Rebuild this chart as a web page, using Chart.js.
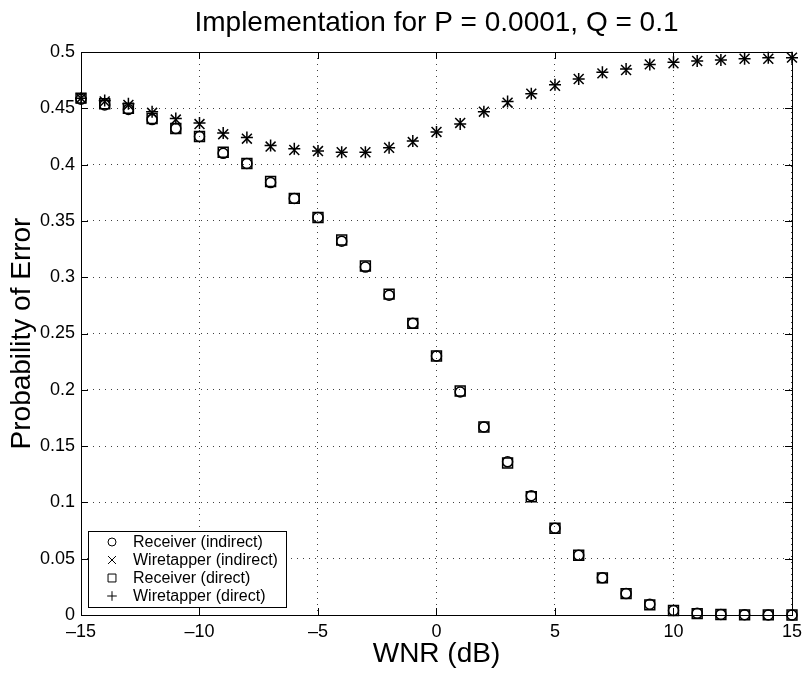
<!DOCTYPE html>
<html>
<head>
<meta charset="utf-8">
<script src="https://cdn.jsdelivr.net/npm/chart.js@4"></script>
<style>
  html, body { margin: 0; padding: 0; background: #fff; }
  canvas { display: block; }
</style>
</head>
<body>
<canvas id="chart" width="808" height="673"></canvas>
<script>
const wnr = [-15, -14, -13, -12, -11, -10, -9, -8, -7, -6, -5, -4, -3, -2, -1, 0,
	1, 2, 3, 4, 5, 6, 7, 8, 9, 10, 11, 12, 13, 14, 15];
const receiverIndirect = [0.458, 0.453, 0.449, 0.440, 0.432, 0.425, 0.410, 0.401, 0.384, 0.370, 0.353,
	0.332, 0.309, 0.284, 0.259, 0.230, 0.198, 0.167, 0.136, 0.106, 0.077,
	0.053, 0.033, 0.019, 0.0095, 0.004, 0.0015, 0.0005, 0.0002, 0.0001, 0.0];
const wiretapperIndirect = [0.459, 0.456, 0.453, 0.446, 0.440, 0.436, 0.427, 0.423, 0.416, 0.413, 0.412,
	0.411, 0.411, 0.415, 0.420, 0.429, 0.437, 0.447, 0.455, 0.463, 0.470,
	0.476, 0.481, 0.484, 0.489, 0.490, 0.492, 0.493, 0.494, 0.494, 0.495];
const receiverDirect = [0.459, 0.454, 0.450, 0.441, 0.432, 0.425, 0.411, 0.401, 0.385, 0.370, 0.353,
	0.333, 0.310, 0.285, 0.259, 0.230, 0.199, 0.167, 0.135, 0.105, 0.077,
	0.053, 0.033, 0.019, 0.009, 0.004, 0.0012, 0.0004, 0.0001, 0.0001, 0.0];
const wiretapperDirect = [0.459, 0.457, 0.454, 0.447, 0.441, 0.437, 0.428, 0.424, 0.417, 0.414, 0.412,
	0.411, 0.411, 0.415, 0.421, 0.429, 0.436, 0.447, 0.456, 0.463, 0.471,
	0.476, 0.482, 0.485, 0.489, 0.491, 0.492, 0.493, 0.494, 0.495, 0.495];

const seriesLabels = ['Receiver (indirect)', 'Wiretapper (indirect)', 'Receiver (direct)', 'Wiretapper (direct)'];
const xTicks = [-15, -10, -5, 0, 5, 10, 15];
const yTicks = [0, 0.05, 0.1, 0.15, 0.2, 0.25, 0.3, 0.35, 0.4, 0.45, 0.5];

const titleText = 'Implementation for P = 0.0001, Q = 0.1';
const xTitle = 'WNR (dB)';
const yTitle = 'Probability of Error';

const fontFamily = '"Liberation Sans", Arial, Helvetica, sans-serif';
Chart.defaults.font.family = fontFamily;
Chart.defaults.color = '#000';

function points(values) {
	return wnr.map((x, i) => ({ x, y: values[i] }));
}

const markers = [
	{ style: 'circle', radius: 5 },
	{ style: 'crossRot', radius: 7 },
	{ style: 'rect', radius: 7 },
	{ style: 'cross', radius: 6 },
];

const frame = {
	id: 'frame',
	afterDraw(chart) {
		const { ctx, chartArea: a, scales: { x, y } } = chart;
		ctx.save();
		ctx.strokeStyle = '#000';
		ctx.lineWidth = 1;
		ctx.strokeRect(Math.round(a.left) + 0.5, Math.round(a.top) + 0.5,
			Math.round(a.right - a.left), Math.round(a.bottom - a.top));

		// matlab style inward ticks on all four sides
		ctx.beginPath();
		xTicks.forEach((v) => {
			const px = Math.round(x.getPixelForValue(v)) + 0.5;
			ctx.moveTo(px, a.bottom);
			ctx.lineTo(px, a.bottom - 7);
			ctx.moveTo(px, a.top);
			ctx.lineTo(px, a.top + 7);
		});
		yTicks.forEach((v) => {
			const py = Math.round(y.getPixelForValue(v)) + 0.5;
			ctx.moveTo(a.left, py);
			ctx.lineTo(a.left + 7, py);
			ctx.moveTo(a.right, py);
			ctx.lineTo(a.right - 7, py);
		});
		ctx.stroke();

		// titles
		ctx.fillStyle = '#000';
		ctx.textAlign = 'center';
		ctx.textBaseline = 'middle';
		ctx.font = `28px ${fontFamily}`;
		const cx = (a.left + a.right) / 2;
		ctx.fillText(titleText, cx, 23);
		ctx.fillText(xTitle, cx, 654);
		ctx.save();
		ctx.translate(22, (a.top + a.bottom) / 2);
		ctx.rotate(-Math.PI / 2);
		ctx.fillText(yTitle, 0, 0);
		ctx.restore();

		// legend box
		const lx = 88, ly = 531, lw = 198, lh = 76;
		ctx.fillStyle = '#fff';
		ctx.fillRect(lx, ly, lw, lh);
		ctx.strokeRect(lx + 0.5, ly + 0.5, lw, lh);
		ctx.font = `16px ${fontFamily}`;
		ctx.textAlign = 'left';
		seriesLabels.forEach((label, i) => {
			const ry = 542 + i * 18;
			ctx.strokeStyle = '#000';
			ctx.fillStyle = 'rgba(0,0,0,0)';
			ctx.lineWidth = 1;
			Chart.helpers.drawPoint(ctx, {
				pointStyle: markers[i].style,
				radius: markers[i].radius * 0.8,
				rotation: 0,
				borderWidth: 1,
			}, 112, ry);
			ctx.fillStyle = '#000';
			ctx.fillText(label, 133, ry + 1);
		});
		ctx.restore();
	},
};

const seriesValues = [receiverIndirect, wiretapperIndirect, receiverDirect, wiretapperDirect];

const ctx = document.getElementById('chart').getContext('2d');
const chart = new Chart(ctx, {
	type: 'scatter',
	data: {
		datasets: seriesValues.map((vals, i) => ({
			label: seriesLabels[i],
			data: points(vals),
			pointStyle: markers[i].style,
			pointRadius: markers[i].radius,
			pointHoverRadius: markers[i].radius,
			pointBorderWidth: 1.5,
			pointBorderColor: '#000',
			pointBackgroundColor: 'rgba(0,0,0,0)',
			showLine: false,
			clip: false,
		})),
	},
	options: {
		responsive: false,
		animation: false,
		devicePixelRatio: 1,
		layout: { padding: { left: 0, top: 52, right: 13, bottom: 0 } },
		plugins: {
			legend: { display: false },
			title: { display: false },
			tooltip: { enabled: false },
		},
		scales: {
			x: {
				type: 'linear',
				min: -15,
				max: 15,
				afterBuildTicks: (s) => { s.ticks = xTicks.map((v) => ({ value: v })); },
				afterFit: (s) => { s.height = 58; },
				grid: { color: 'rgba(0,0,0,0.75)', drawTicks: false },
				border: { display: false, dash: [1, 5] },
				ticks: {
					padding: 6,
					maxRotation: 0,
					font: { size: 18 },
					callback: (v) => (v < 0 ? '\u2013' + Math.abs(v) : String(v)),
				},
			},
			y: {
				type: 'linear',
				min: 0,
				max: 0.5,
				afterBuildTicks: (s) => { s.ticks = yTicks.map((v) => ({ value: v })); },
				afterFit: (s) => { s.width = 81; },
				grid: { color: 'rgba(0,0,0,0.75)', drawTicks: false },
				border: { display: false, dash: [1, 5] },
				ticks: {
					padding: 6,
					font: { size: 18 },
					callback: (v) => String(v),
				},
			},
		},
	},
	plugins: [frame],
});
</script>
</body>
</html>
